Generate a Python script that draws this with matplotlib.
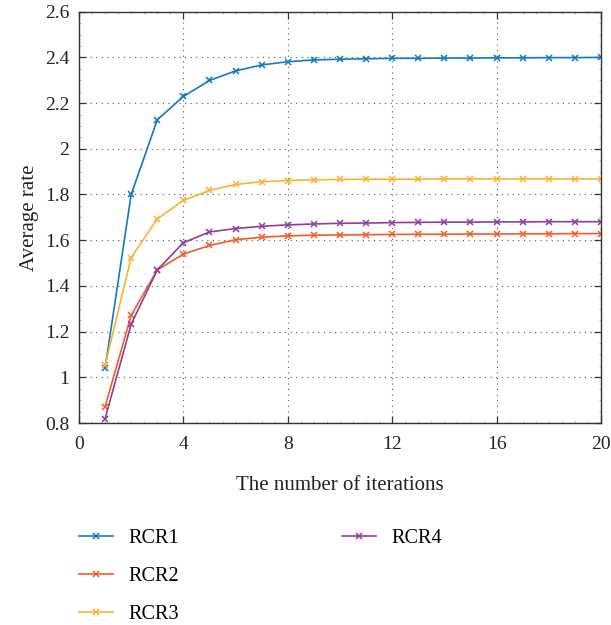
import numpy as np
import matplotlib
matplotlib.use('Agg')
import matplotlib.pyplot as plt
from matplotlib.ticker import MultipleLocator

iterations = np.arange(1, 21)
rcr1 = [1.04, 1.80, 2.127, 2.229, 2.299, 2.341, 2.367, 2.381, 2.389, 2.392,
        2.394, 2.396, 2.396, 2.397, 2.397, 2.398, 2.398, 2.399, 2.399, 2.400]
rcr2 = [0.872, 1.271, 1.47, 1.539, 1.577, 1.602, 1.613, 1.619, 1.622, 1.623,
        1.624, 1.625, 1.626, 1.626, 1.627, 1.627, 1.628, 1.628, 1.629, 1.629]
rcr3 = [1.053, 1.524, 1.693, 1.774, 1.818, 1.844, 1.856, 1.861, 1.864, 1.866,
        1.867, 1.867, 1.867, 1.868, 1.868, 1.868, 1.868, 1.868, 1.868, 1.868]
rcr4 = [0.819, 1.233, 1.47, 1.589, 1.636, 1.651, 1.661, 1.667, 1.671, 1.674,
        1.675, 1.677, 1.678, 1.679, 1.679, 1.680, 1.680, 1.681, 1.681, 1.681]
labels = ['RCR1', 'RCR2', 'RCR3', 'RCR4']
colors = ['#1379c2', '#f25c28', '#fbb234', '#8c3f9c']
ytick_labels = ['0.8', '1', '1.2', '1.4', '1.6', '1.8', '2', '2.2', '2.4', '2.6']

plt.rcParams['font.family'] = ['Liberation Serif', 'DejaVu Serif']

fig = plt.figure(figsize=(6.11, 6.25), dpi=100)
ax = fig.add_axes([0.1293, 0.3232, 0.8543, 0.6581])

handles = []
for ys, lab, col in zip([rcr1, rcr2, rcr3, rcr4], labels, colors):
    h, = ax.plot(iterations, ys, color=col, marker='x', markersize=5,
                 markeredgewidth=1.1, linewidth=1.2, label=lab)
    handles.append(h)

ax.set_xlim(0, 20)
ax.set_ylim(0.8, 2.6)
ax.xaxis.set_major_locator(MultipleLocator(4))
ax.xaxis.set_minor_locator(MultipleLocator(0.5))
ax.set_yticks(np.arange(0.8, 2.61, 0.2))
ax.yaxis.set_minor_locator(MultipleLocator(0.05))
ax.set_yticklabels(ytick_labels)
ax.grid(True, which='major', linestyle=(0, (1, 4)), color='#555555', linewidth=0.8)
ax.tick_params(direction='in', top=True, right=True, labelsize=14,
               length=5, width=0.9, color='#333333', labelcolor='#222222')
ax.tick_params(which='minor', direction='in', top=True, right=True,
               length=1.5, width=0.5, color='#999999')
ax.tick_params(axis='y', which='major', pad=7)
ax.tick_params(axis='x', which='major', pad=9.5)
for s in ax.spines.values():
    s.set_color('#333333')
    s.set_linewidth(1.0)

ax.set_xlabel('The number of iterations', fontsize=15, labelpad=16.5, color='#222222')
ax.set_ylabel('Average rate', fontsize=15, labelpad=4, color='#222222')

leg1 = fig.legend(handles=handles[:3], loc='upper left',
                  bbox_to_anchor=(0.1293, 0.1536), frameon=False, fontsize=14.5,
                  handlelength=1.7, labelspacing=0.93, handletextpad=0.75,
                  borderpad=0, borderaxespad=0)
leg2 = fig.legend(handles=handles[3:], loc='upper left',
                  bbox_to_anchor=(0.5597, 0.1536), frameon=False, fontsize=14.5,
                  handlelength=1.7, handletextpad=0.75,
                  borderpad=0, borderaxespad=0)

fig.savefig('out.png', dpi=100)
